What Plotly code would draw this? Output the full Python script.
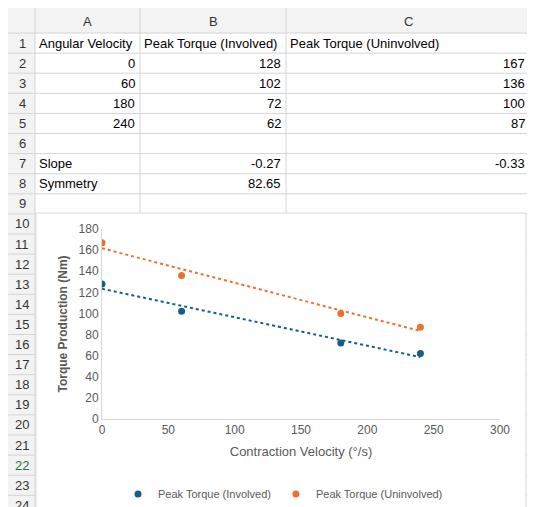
import numpy as np
import plotly.graph_objects as go

velocity = [0, 60, 180, 240]
involved = [128, 102, 72, 62]
uninvolved = [167, 136, 100, 87]
slope_labels = ["-0.27", "-0.33"]
symmetry_label = "82.65"
col_letters = ["A", "B", "C"]

W, H = 535, 507
def px(x): return x / W
def py(y): return 1 - y / H

col_edges = [0, 27, 132, 278, 522]
ROW0, RH = 25, 20.1
def rtop(n): return ROW0 + RH * (n - 1)

BLUE = "#156082"
ORANGE = "#E97132"
FONT = "Liberation Sans"

fig = go.Figure()
fig.add_trace(go.Scatter(x=velocity, y=involved, mode="markers", name="Peak Torque (Involved)",
                         marker=dict(color=BLUE, size=7)))
fig.add_trace(go.Scatter(x=velocity, y=uninvolved, mode="markers", name="Peak Torque (Uninvolved)",
                         marker=dict(color=ORANGE, size=7)))
for ys, c in [(involved, BLUE), (uninvolved, ORANGE)]:
    m, b = np.polyfit(velocity, ys, 1)
    xs = [velocity[0], velocity[-1]]
    fig.add_trace(go.Scatter(x=xs, y=[m * v + b for v in xs], mode="lines", showlegend=False,
                             line=dict(color=c, width=2, dash="dot"), hoverinfo="skip"))

shapes = []
ann = []
shapes.append(dict(type="rect", xref="paper", yref="paper", x0=0, x1=1, y0=py(ROW0), y1=1,
                   fillcolor="#f3f3f3", line=dict(width=0), layer="below"))
shapes.append(dict(type="rect", xref="paper", yref="paper", x0=0, x1=px(27), y0=0, y1=1,
                   fillcolor="#f3f3f3", line=dict(width=0), layer="below"))
for n in range(1, 26):
    y = rtop(n)
    shapes.append(dict(type="line", xref="paper", yref="paper", x0=px(0), x1=1, y0=py(y), y1=py(y),
                       line=dict(color="#d4d4d4", width=1), layer="below"))
for x in col_edges[1:]:
    shapes.append(dict(type="line", xref="paper", yref="paper", x0=px(x), x1=px(x), y0=0, y1=1,
                       line=dict(color="#d4d4d4", width=1), layer="below"))
shapes.append(dict(type="rect", xref="paper", yref="paper", x0=px(28), x1=px(518), y0=py(505), y1=py(205),
                   fillcolor="white", line=dict(color="#d9d9d9", width=1), layer="below"))

def txt(s, x, y, anchor="left", size=13, color="#000"):
    ann.append(dict(text=s, xref="paper", yref="paper", x=px(x), y=py(y), xanchor=anchor, yanchor="middle",
                    showarrow=False, font=dict(family=FONT, size=size, color=color)))

for i, L in enumerate(col_letters):
    txt(L, (col_edges[i + 1] + col_edges[i + 2]) / 2, 13, "center", 13, "#333")
for n in range(1, 25):
    txt(str(n), 14, rtop(n) + RH / 2, "center", 13, "#217346" if n == 22 else "#333")

def cy(n): return rtop(n) + RH / 2
txt("Angular Velocity", 29, cy(1))
txt("Peak Torque (Involved)", 134, cy(1))
txt("Peak Torque (Uninvolved)", 280, cy(1))
for i in range(4):
    txt(str(velocity[i]), 129, cy(2 + i), "right")
    txt(str(involved[i]), 275, cy(2 + i), "right")
    txt(str(uninvolved[i]), 519, cy(2 + i), "right")
txt("Slope", 29, cy(7))
txt(slope_labels[0], 275, cy(7), "right")
txt(slope_labels[1], 519, cy(7), "right")
txt("Symmetry", 29, cy(8))
txt(symmetry_label, 275, cy(8), "right")

gray = "#595959"
fig.update_layout(
    width=W, height=H, margin=dict(l=0, r=0, t=0, b=0, autoexpand=False),
    paper_bgcolor="white", plot_bgcolor="white",
    shapes=shapes, annotations=ann,
    font=dict(family=FONT, size=12, color=gray),
    xaxis=dict(domain=[px(94), px(492)], range=[0, 300], dtick=50, showgrid=False, zeroline=False,
               showline=True, linecolor="#d9d9d9", ticks="", anchor="y", automargin=False,
               title=dict(text="Contraction Velocity (°/s)", font=dict(size=13, color=gray), standoff=10)),
    yaxis=dict(domain=[py(411), py(221)], range=[0, 180], dtick=20, showgrid=False, zeroline=False,
               showline=True, linecolor="#d9d9d9", ticks="", anchor="x", automargin=False,
               title=dict(text="<b>Torque Production (Nm)</b>", font=dict(size=12, color=gray), standoff=8)),
    legend=dict(orientation="h", x=px(275), xanchor="center", y=py(486), yanchor="middle",
                font=dict(size=11, color=gray), bgcolor="rgba(0,0,0,0)", itemwidth=30),
)
fig.write_html("out.html")
